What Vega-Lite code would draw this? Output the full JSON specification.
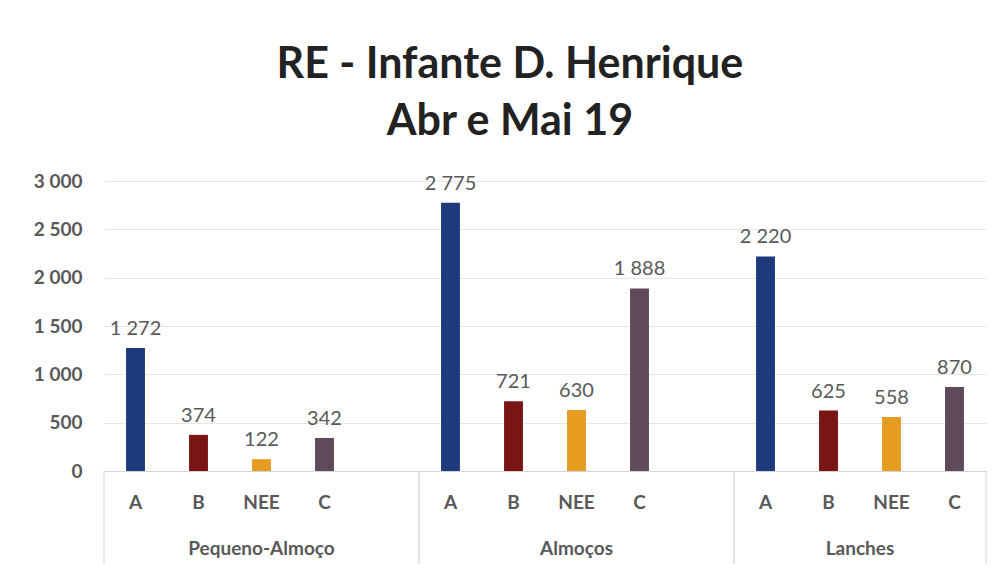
{
  "$schema": "https://vega.github.io/schema/vega-lite/v6.json",
  "background": "white",
  "padding": {"left": 33, "top": 44, "right": 10, "bottom": 0},
  "config": {
    "locale": {"number": {"decimal": ",", "thousands": " ", "grouping": [3], "currency": ["", " €"]}},
    "view": {"stroke": null},
    "font": "Lato"
  },
  "title": {
    "text": ["RE - Infante D. Henrique", "Abr e Mai 19"],
    "font": "Lato",
    "fontSize": 43,
    "fontWeight": "bold",
    "color": "#222222",
    "lineHeight": 57,
    "anchor": "middle",
    "offset": 28
  },
  "datasets": {
    "refeicoes": [
      {"grupo": "Pequeno-Almoço", "cat": "A", "slot": "P|A", "valor": 1272},
      {"grupo": "Pequeno-Almoço", "cat": "B", "slot": "P|B", "valor": 374},
      {"grupo": "Pequeno-Almoço", "cat": "NEE", "slot": "P|NEE", "valor": 122},
      {"grupo": "Pequeno-Almoço", "cat": "C", "slot": "P|C", "valor": 342},
      {"grupo": "Almoços", "cat": "A", "slot": "M|A", "valor": 2775},
      {"grupo": "Almoços", "cat": "B", "slot": "M|B", "valor": 721},
      {"grupo": "Almoços", "cat": "NEE", "slot": "M|NEE", "valor": 630},
      {"grupo": "Almoços", "cat": "C", "slot": "M|C", "valor": 1888},
      {"grupo": "Lanches", "cat": "A", "slot": "L|A", "valor": 2220},
      {"grupo": "Lanches", "cat": "B", "slot": "L|B", "valor": 625},
      {"grupo": "Lanches", "cat": "NEE", "slot": "L|NEE", "valor": 558},
      {"grupo": "Lanches", "cat": "C", "slot": "L|C", "valor": 870}
    ],
    "grupos": [
      {"grupo": "Pequeno-Almoço", "primeiro": "P|A", "ultimo": "P|-", "meio": "P|NEE"},
      {"grupo": "Almoços", "primeiro": "M|A", "ultimo": "M|-", "meio": "M|NEE"},
      {"grupo": "Lanches", "primeiro": "L|A", "ultimo": "L|C", "meio": "L|B"}
    ]
  },
  "spacing": 0,
  "bounds": "flush",
  "vconcat": [
    {
      "width": 882,
      "height": 290,
      "data": {"name": "refeicoes"},
      "layer": [
        {
          "mark": {"type": "bar", "width": {"band": 0.3}},
          "encoding": {
            "x": {
              "field": "slot", "type": "nominal",
              "scale": {"domain": ["P|A","P|B","P|NEE","P|C","P|-","M|A","M|B","M|NEE","M|C","M|-","L|A","L|B","L|NEE","L|C"], "paddingInner": 0, "paddingOuter": 0},
              "axis": null
            },
            "y": {
              "field": "valor", "type": "quantitative",
              "scale": {"domain": [0, 3000]},
              "axis": {
                "values": [0, 500, 1000, 1500, 2000, 2500, 3000],
                "format": ",d",
                "title": null,
                "domain": false,
                "ticks": false,
                "grid": true,
                "gridColor": {"condition": {"test": "datum.value === 0", "value": "#d4d4d4"}, "value": "#e6e6e6"},
                "labelFont": "Lato",
                "labelFontSize": 19,
                "labelFontWeight": "bold",
                "labelColor": "#595959",
                "labelPadding": 22
              }
            },
            "color": {
              "field": "cat", "type": "nominal",
              "scale": {"domain": ["A", "B", "NEE", "C"], "range": ["#1f3a7a", "#7a1515", "#e59c20", "#5e4a5a"]},
              "legend": null
            }
          }
        },
        {
          "mark": {"type": "text", "baseline": "bottom", "dy": -9, "font": "Lato", "fontSize": 20, "color": "#595959"},
          "encoding": {
            "x": {"field": "slot", "type": "nominal"},
            "y": {"field": "valor", "type": "quantitative"},
            "text": {"field": "valor", "type": "quantitative", "format": ",d"}
          }
        }
      ]
    },
    {
      "width": 882,
      "height": 93,
      "layer": [
        {
          "data": {"name": "refeicoes"},
          "mark": {"type": "text", "dy": -15, "font": "Lato", "fontSize": 19, "fontWeight": "bold", "color": "#595959"},
          "encoding": {
            "x": {
              "field": "slot", "type": "nominal",
              "scale": {"domain": ["P|A","P|B","P|NEE","P|C","P|-","M|A","M|B","M|NEE","M|C","M|-","L|A","L|B","L|NEE","L|C"], "paddingInner": 0, "paddingOuter": 0},
              "axis": null
            },
            "text": {"field": "cat"}
          }
        },
        {
          "data": {"name": "grupos"},
          "mark": {"type": "rule", "color": "#d9d9d9", "strokeWidth": 1},
          "encoding": {"x": {"field": "primeiro", "type": "nominal", "bandPosition": 0}}
        },
        {
          "data": {"name": "grupos"},
          "mark": {"type": "rule", "color": "#d9d9d9", "strokeWidth": 1},
          "encoding": {"x": {"field": "ultimo", "type": "nominal", "bandPosition": 1}}
        },
        {
          "data": {"name": "grupos"},
          "transform": [{"filter": "datum.grupo !== 'Lanches'"}],
          "mark": {"type": "text", "dy": 31, "font": "Lato", "fontSize": 19, "fontWeight": "bold", "letterSpacing": 1, "color": "#595959"},
          "encoding": {"x": {"field": "meio", "type": "nominal", "bandPosition": 0.5}, "text": {"field": "grupo"}}
        },
        {
          "data": {"name": "grupos"},
          "transform": [{"filter": "datum.grupo === 'Lanches'"}],
          "mark": {"type": "text", "dy": 31, "font": "Lato", "fontSize": 19, "fontWeight": "bold", "letterSpacing": 1, "color": "#595959"},
          "encoding": {"x": {"field": "meio", "type": "nominal", "bandPosition": 1}, "text": {"field": "grupo"}}
        }
      ]
    }
  ]
}
